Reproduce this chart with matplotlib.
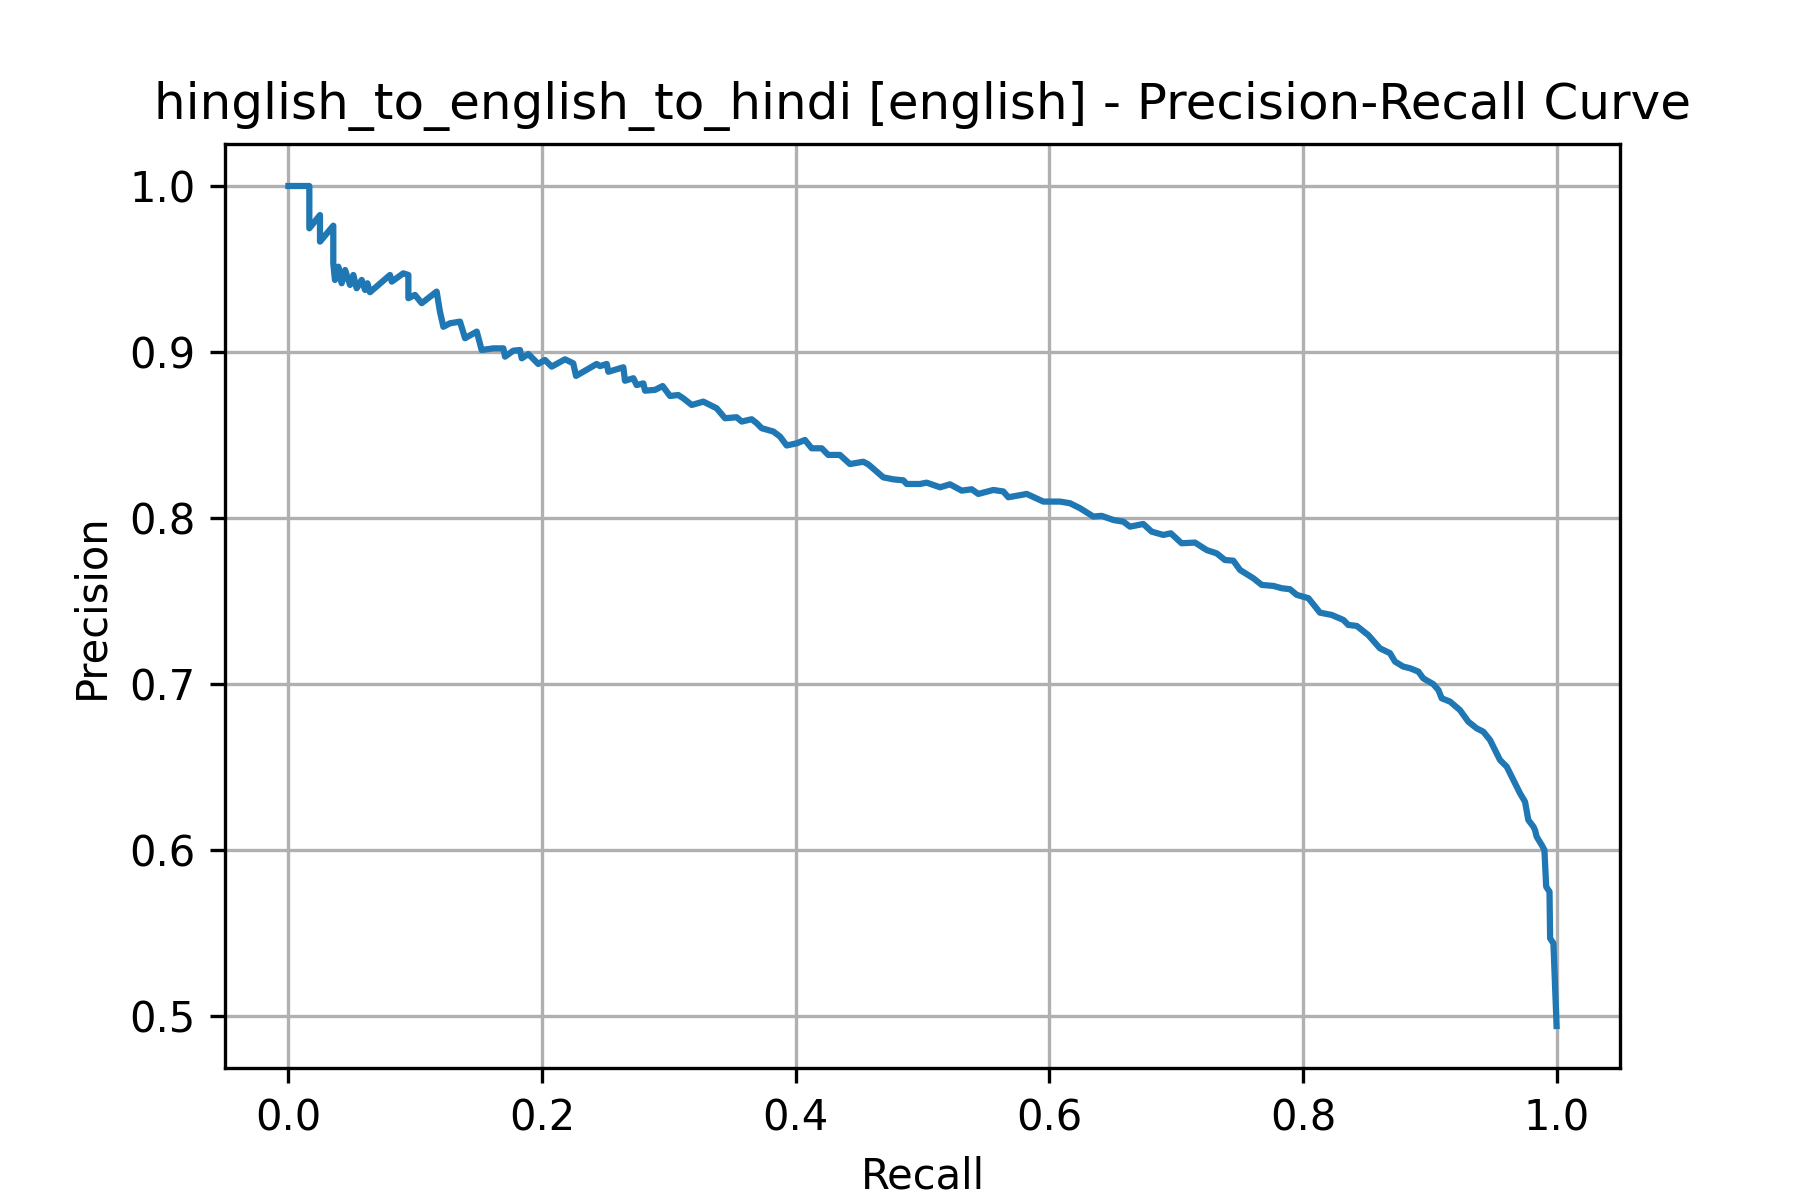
import matplotlib
matplotlib.use("Agg")
import matplotlib.pyplot as plt

title = "hinglish_to_english_to_hindi [english] - Precision-Recall Curve"
x_label = "Recall"
y_label = "Precision"

recall = [
    0.0, 0.0165, 0.0165, 0.0249, 0.0249, 0.0354, 0.0354, 0.0367, 0.0394, 0.042,
    0.0447, 0.0486, 0.0512, 0.0538, 0.0578, 0.0604, 0.0623, 0.0643, 0.0801, 0.0815,
    0.0906, 0.0946, 0.0946, 0.0998, 0.1051, 0.1169, 0.1195, 0.1222, 0.1274, 0.1353,
    0.1393, 0.1485, 0.1524, 0.1616, 0.1695, 0.1708, 0.1773, 0.1826, 0.184, 0.1892,
    0.197, 0.2023, 0.2076, 0.2181, 0.2246, 0.2268, 0.2431, 0.2457, 0.251, 0.2523,
    0.2641, 0.2654, 0.272, 0.2746, 0.2799, 0.2812, 0.2891, 0.2951, 0.3009, 0.3074,
    0.3114, 0.318, 0.3272, 0.3324, 0.3377, 0.3443, 0.3535, 0.3574, 0.3653, 0.3693,
    0.3732, 0.3824, 0.3876, 0.3929, 0.4008, 0.4073, 0.4126, 0.4205, 0.4257, 0.4349,
    0.4428, 0.4533, 0.4573, 0.4691, 0.4770, 0.4849, 0.4875, 0.498, 0.5033, 0.5139,
    0.5217, 0.5309, 0.5388, 0.544, 0.5559, 0.5637, 0.5677, 0.5822, 0.5953, 0.6084,
    0.6163, 0.6242, 0.6347, 0.6413, 0.6505, 0.6584, 0.6636, 0.6741, 0.6807, 0.6899,
    0.6958, 0.7043, 0.7149, 0.7241, 0.7320, 0.7385, 0.7451, 0.7504, 0.7609, 0.7675,
    0.7767, 0.7833, 0.7898, 0.7951, 0.8043, 0.8134, 0.8227, 0.8319, 0.8357, 0.8424,
    0.8515, 0.8607, 0.8686, 0.8726, 0.8791, 0.8844, 0.891, 0.8949, 0.9028, 0.9068,
    0.9094, 0.916, 0.9238, 0.9304, 0.937, 0.9422, 0.9475, 0.9515, 0.9554, 0.9607,
    0.9659, 0.9712, 0.9751, 0.9777, 0.9817, 0.983, 0.9843, 0.9883, 0.9904, 0.9918,
    0.9944, 0.9949, 0.9975, 1.0,
]

precision = [
    1.0, 1.0, 0.9745, 0.9825, 0.9665, 0.9761, 0.9534, 0.9434, 0.9514, 0.9414,
    0.9494, 0.9404, 0.9464, 0.9384, 0.9434, 0.9374, 0.9414, 0.936, 0.9464, 0.9424,
    0.9474, 0.9464, 0.9324, 0.9344, 0.9294, 0.9364, 0.9243, 0.9152, 0.9173, 0.9183,
    0.9083, 0.9123, 0.9012, 0.9022, 0.9022, 0.8972, 0.9008, 0.9012, 0.8962, 0.8988,
    0.8928, 0.8952, 0.8912, 0.8956, 0.8932, 0.8856, 0.8928, 0.8915, 0.8928, 0.8881,
    0.8908, 0.8827, 0.8842, 0.8801, 0.8811, 0.8767, 0.8772, 0.8795, 0.8735, 0.8741,
    0.8721, 0.8681, 0.8701, 0.8681, 0.8661, 0.8601, 0.8607, 0.8581, 0.8595, 0.8571,
    0.8541, 0.8521, 0.8491, 0.8437, 0.845, 0.847, 0.842, 0.842, 0.838, 0.838,
    0.8325, 0.8339, 0.8323, 0.8245, 0.8233, 0.8227, 0.8205, 0.8205, 0.8213, 0.8185,
    0.8203, 0.8165, 0.8173, 0.8145, 0.8169, 0.8160, 0.8125, 0.8145, 0.8099, 0.8099,
    0.8089, 0.8059, 0.8009, 0.8013, 0.7988, 0.7978, 0.7948, 0.7964, 0.7918, 0.7898,
    0.7908, 0.7848, 0.7852, 0.7807, 0.7787, 0.7747, 0.7743, 0.7687, 0.7637, 0.7597,
    0.7591, 0.7577, 0.7571, 0.7537, 0.7517, 0.743, 0.7416, 0.7386, 0.7356, 0.735,
    0.7295, 0.7215, 0.7186, 0.7135, 0.7105, 0.7095, 0.7075, 0.7034, 0.6999, 0.6964,
    0.6914, 0.6894, 0.6843, 0.6773, 0.6733, 0.6713, 0.6663, 0.6602, 0.6542, 0.6502,
    0.6422, 0.6341, 0.6291, 0.6181, 0.6141, 0.612, 0.608, 0.603, 0.6, 0.5779,
    0.5749, 0.5468, 0.5438, 0.494,
]

fig, ax = plt.subplots(figsize=(6, 4), dpi=300)
ax.plot(recall, precision, color="#1f77b4", linewidth=1.5)
ax.set_title(title)
ax.set_xlabel(x_label)
ax.set_ylabel(y_label)
ax.grid(True)
fig.savefig("out.png", dpi=300)
